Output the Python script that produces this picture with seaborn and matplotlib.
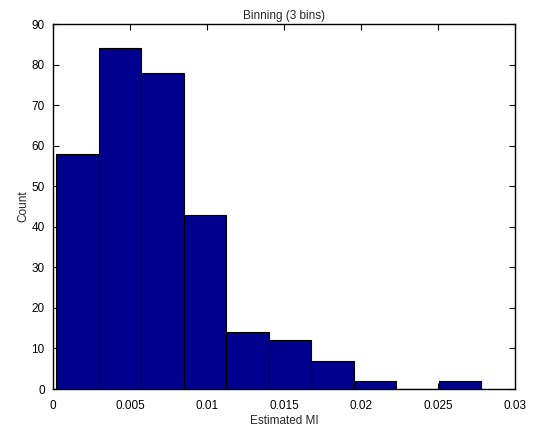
import numpy as np
import pandas as pd
import matplotlib
matplotlib.use("Agg")
import matplotlib.pyplot as plt
import seaborn as sns

bin_edges = [0.000195, 0.00296, 0.00572, 0.00848, 0.01124, 0.01400,
             0.01676, 0.01952, 0.02228, 0.02504, 0.0278]
counts = [58, 84, 78, 43, 14, 12, 7, 2, 0, 2]
xticks = [0, 0.005, 0.01, 0.015, 0.02, 0.025, 0.03]
xticklabels = ["0", "0.005", "0.01", "0.015", "0.02", "0.025", "0.03"]
yticks = [0, 10, 20, 30, 40, 50, 60, 70, 80, 90]

sns.set_style("ticks")
plt.rcParams['font.family'] = ['Liberation Sans', 'DejaVu Sans']

centers = [(a + b) / 2 for a, b in zip(bin_edges[:-1], bin_edges[1:])]
df = pd.DataFrame({"mi": centers, "count": counts})

fig = plt.figure(figsize=(5.37, 4.30), dpi=100)
ax = fig.add_axes([0.0987, 0.0953, 0.8603, 0.8487])
sns.histplot(data=df, x="mi", weights="count", bins=bin_edges, ax=ax,
             color="#00008F", edgecolor="black", linewidth=0.8, alpha=1.0)

ax.set_xlim(0, 0.03)
ax.set_ylim(0, 90)
ax.set_xticks(xticks)
ax.set_xticklabels(xticklabels)
ax.set_yticks(yticks)
ax.tick_params(direction="in", top=True, right=True, labelsize=8.5, length=4,
               width=0.8, colors="black")
ax.tick_params(axis="x", pad=8)
ax.tick_params(axis="y", pad=6)
for s in ax.spines.values():
    s.set_visible(True)
    s.set_linewidth(1.0)
    s.set_color("black")
ax.set_xlabel("Estimated MI", fontsize=8.5, labelpad=2)
ax.set_ylabel("Count", fontsize=8.5, labelpad=1.5)
ax.set_title("Binning (3 bins)", fontsize=8.5, pad=4)

fig.savefig("out.png", dpi=100)
